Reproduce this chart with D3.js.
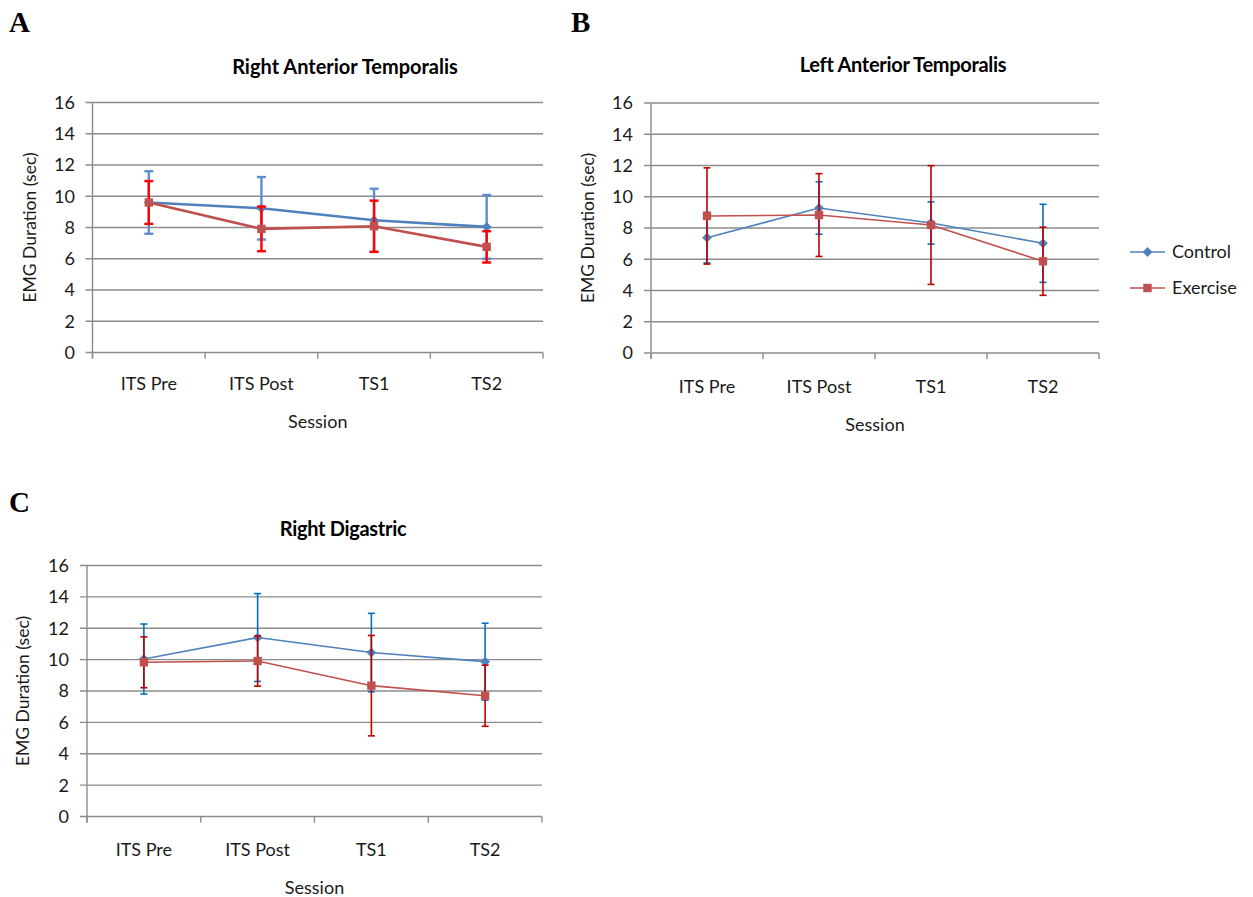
<!DOCTYPE html>
<html>
<head>
<meta charset="utf-8">
<script src="https://cdn.jsdelivr.net/npm/d3@7"></script>
<style>
  html, body { margin: 0; padding: 0; background: #fff; }
  svg { display: block; }
</style>
</head>
<body>
<svg id="chart" width="1253" height="897"></svg>
<script>
// ---------- data ----------
const categories = ["ITS Pre", "ITS Post", "TS1", "TS2"];
const yTickValues = [0, 2, 4, 6, 8, 10, 12, 14, 16];
const seriesNames = ["Control", "Exercise"];

// A: Right Anterior Temporalis
const ratControl      = [9.60, 9.23, 8.46, 8.04];
const ratControlErr   = [2.00, 2.00, 2.02, 2.04];
const ratExercise     = [9.60, 7.91, 8.08, 6.76];
const ratExerciseErr  = [1.37, 1.43, 1.64, 1.00];

// B: Left Anterior Temporalis
const latControl      = [7.38, 9.28, 8.32, 7.02];
const latControlErr   = [1.62, 1.68, 1.35, 2.50];
const latExercise     = [8.77, 8.83, 8.19, 5.87];
const latExerciseErr  = [3.08, 2.65, 3.80, 2.18];

// C: Right Digastric
const rdControl       = [10.04, 11.41, 10.45, 9.87];
const rdControlErr    = [2.23, 2.80, 2.50, 2.45];
const rdExercise      = [9.83, 9.91, 8.34, 7.70];
const rdExerciseErr   = [1.62, 1.60, 3.20, 1.95];

// ---------- drawing ----------
const svg = d3.select("#chart");
const FONT = "Lato, 'Open Sans', 'Noto Sans', sans-serif";
const lineBlue = "#4F81BD", lineRed = "#C0504D";
const TXT = 18;

const panels = [
  { letter: "A", lx: 9, ly: 32, title: "Right Anterior Temporalis", titleX: 345, titleY: 74, tsp: 0,
    left: 92.5, right: 543, top: 102.5, bottom: 352.5, labelRight: 75, ylabX: 36,
    catY: 390, sessY: 428, clipSession: 429,
    ctrl: ratControl, ctrlErr: ratControlErr, ex: ratExercise, exErr: ratExerciseErr,
    lw: 2.6, ew: 2.4, cap: 9, ctrlErrColor: "#5B8ED0", exErrColor: "#FF0000", legend: false },
  { letter: "B", lx: 571, ly: 32, title: "Left Anterior Temporalis", titleX: 903, titleY: 72, tsp: -0.3,
    left: 651, right: 1099, top: 103, bottom: 353, labelRight: 633, ylabX: 594,
    catY: 393, sessY: 431, clipSession: null,
    ctrl: latControl, ctrlErr: latControlErr, ex: latExercise, exErr: latExerciseErr,
    lw: 1.6, ew: 1.6, cap: 7, ctrlErrColor: "#0070C0", exErrColor: "#C00000", legend: true },
  { letter: "C", lx: 9, ly: 512, title: "Right Digastric", titleX: 343, titleY: 536, tsp: -0.3,
    left: 87, right: 542, top: 565.5, bottom: 816.5, labelRight: 69, ylabX: 29,
    catY: 856, sessY: 894, clipSession: null,
    ctrl: rdControl, ctrlErr: rdControlErr, ex: rdExercise, exErr: rdExerciseErr,
    lw: 1.6, ew: 1.6, cap: 7, ctrlErrColor: "#0070C0", exErrColor: "#C00000", legend: false }
];

panels.forEach((p, pi) => {
  const g = svg.append("g");
  const x = d3.scaleBand().domain(categories).range([p.left, p.right]);
  const y = d3.scaleLinear().domain([0, 16]).range([p.bottom, p.top]);
  const cx = c => x(c) + x.bandwidth() / 2;

  // panel letter
  g.append("text").attr("x", p.lx).attr("y", p.ly)
    .attr("font-family", "'Liberation Serif', 'Times New Roman', serif")
    .attr("font-weight", "bold").attr("font-size", 29).attr("fill", "#000")
    .text(p.letter);

  // title
  g.append("text").attr("x", p.titleX).attr("y", p.titleY)
    .attr("text-anchor", "middle").attr("font-family", FONT)
    .attr("font-weight", "bold").attr("font-size", 20).attr("fill", "#000")
    .attr("letter-spacing", p.tsp)
    .text(p.title);

  // gridlines (extend left as tick marks)
  g.append("g").selectAll("line").data(yTickValues).join("line")
    .attr("x1", p.left - 7).attr("x2", p.right)
    .attr("y1", d => y(d)).attr("y2", d => y(d))
    .attr("stroke", "#8C8C8C").attr("stroke-width", 1.4);

  // y axis line
  g.append("line").attr("x1", p.left).attr("x2", p.left)
    .attr("y1", p.top).attr("y2", p.bottom + 6)
    .attr("stroke", "#8C8C8C").attr("stroke-width", 1.4);

  // y tick labels
  g.append("g").selectAll("text").data(yTickValues).join("text")
    .attr("x", p.labelRight).attr("y", d => y(d)).attr("dy", "0.36em")
    .attr("text-anchor", "end").attr("font-family", FONT)
    .attr("font-size", TXT).attr("fill", "#1a1a1a")
    .text(d => d);

  // x axis tick marks at category boundaries
  const bounds = categories.map(c => x(c)).concat([p.right]);
  g.append("g").selectAll("line").data(bounds).join("line")
    .attr("x1", d => d).attr("x2", d => d)
    .attr("y1", p.bottom).attr("y2", p.bottom + 6)
    .attr("stroke", "#8C8C8C").attr("stroke-width", 1.4);

  // category labels
  g.append("g").selectAll("text").data(categories).join("text")
    .attr("x", d => cx(d)).attr("y", p.catY)
    .attr("text-anchor", "middle").attr("font-family", FONT)
    .attr("font-size", TXT).attr("fill", "#1a1a1a")
    .text(d => d);

  // axis titles
  const sess = g.append("text").attr("x", (p.left + p.right) / 2).attr("y", p.sessY)
    .attr("text-anchor", "middle").attr("font-family", FONT)
    .attr("font-size", TXT).attr("fill", "#1a1a1a").text("Session");
  if (p.clipSession) {
    svg.append("clipPath").attr("id", "clipA" + pi).append("rect")
      .attr("x", 0).attr("y", 0).attr("width", 1253).attr("height", p.clipSession);
    sess.attr("clip-path", `url(#clipA${pi})`);
  }
  g.append("text")
    .attr("transform", `translate(${p.ylabX},${(p.top + p.bottom) / 2}) rotate(-90)`)
    .attr("text-anchor", "middle").attr("font-family", FONT)
    .attr("font-size", 17.5).attr("fill", "#1a1a1a")
    .text("EMG Duration (sec)");

  const series = [
    { vals: p.ctrl, errs: p.ctrlErr, color: lineBlue, errColor: p.ctrlErrColor, marker: "diamond" },
    { vals: p.ex, errs: p.exErr, color: lineRed, errColor: p.exErrColor, marker: "square" }
  ];

  series.forEach(s => {
    const pts = categories.map((c, i) => ({ c, v: s.vals[i], e: s.errs[i] }));
    // error bars
    const eg = g.append("g").attr("stroke", s.errColor).attr("stroke-width", p.ew);
    eg.selectAll("line.v").data(pts).join("line").attr("class", "v")
      .attr("x1", d => cx(d.c)).attr("x2", d => cx(d.c))
      .attr("y1", d => y(d.v + d.e)).attr("y2", d => y(d.v - d.e));
    eg.selectAll("line.t").data(pts).join("line").attr("class", "t")
      .attr("x1", d => cx(d.c) - p.cap / 2).attr("x2", d => cx(d.c) + p.cap / 2)
      .attr("y1", d => y(d.v + d.e)).attr("y2", d => y(d.v + d.e));
    eg.selectAll("line.b").data(pts).join("line").attr("class", "b")
      .attr("x1", d => cx(d.c) - p.cap / 2).attr("x2", d => cx(d.c) + p.cap / 2)
      .attr("y1", d => y(d.v - d.e)).attr("y2", d => y(d.v - d.e));
    // line
    g.append("path").datum(pts)
      .attr("d", d3.line().x(d => cx(d.c)).y(d => y(d.v)))
      .attr("fill", "none").attr("stroke", s.color).attr("stroke-width", p.lw);
    // markers
    const sym = s.marker === "diamond"
      ? d3.symbol().type(d3.symbolSquare).size(48)
      : d3.symbol().type(d3.symbolSquare).size(70);
    g.append("g").selectAll("path").data(pts).join("path")
      .attr("d", sym)
      .attr("transform", d => `translate(${cx(d.c)},${y(d.v)})` + (s.marker === "diamond" ? " rotate(45)" : ""))
      .attr("fill", s.color);
  });

  if (p.legend) {
    const lg = g.append("g");
    const items = [
      { name: seriesNames[0], color: lineBlue, marker: "diamond", y: 252 },
      { name: seriesNames[1], color: lineRed, marker: "square", y: 288 }
    ];
    items.forEach(it => {
      lg.append("line").attr("x1", 1130).attr("x2", 1165)
        .attr("y1", it.y).attr("y2", it.y)
        .attr("stroke", it.color).attr("stroke-width", 1.6);
      const sym = it.marker === "diamond"
        ? d3.symbol().type(d3.symbolSquare).size(48)
        : d3.symbol().type(d3.symbolSquare).size(70);
      lg.append("path").attr("d", sym)
        .attr("transform", `translate(1147.5,${it.y})` + (it.marker === "diamond" ? " rotate(45)" : ""))
        .attr("fill", it.color);
      lg.append("text").attr("x", 1172).attr("y", it.y).attr("dy", "0.36em")
        .attr("font-family", FONT).attr("font-size", TXT).attr("fill", "#1a1a1a")
        .text(it.name);
    });
  }
});
</script>
</body>
</html>
